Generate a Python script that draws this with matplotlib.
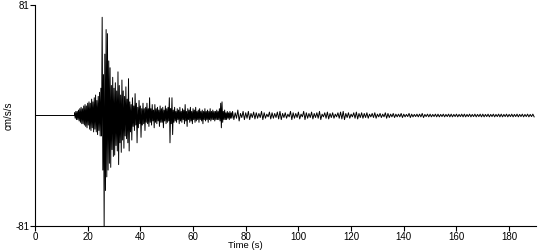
import numpy as np
import matplotlib.pyplot as plt

# flat pre-event part (s)
quiet_start = 0.0
quiet_end = 15.0

# main shaking, 0.5 s steps from 15 s: upper / lower extremes (cm/s/s)
main_t0 = 15.0
main_dt = 0.5
main_hi = [2, 3, 3, 4, 5, 6, 5, 7, 8, 7, 9, 10, 9, 12, 10, 13, 15, 11, 14, 17,
           20, 72, 30, 45, 63, 60, 40, 35, 22, 28, 20, 24, 18, 32, 22, 15, 26, 18, 14, 21,
           12, 27, 10, 8, 13, 7, 16, 9, 6, 11, 7, 5, 9, 5, 6, 9, 5, 13, 5, 8,
           4, 8, 5, 6, 4, 7, 5, 6, 4, 7, 5, 6, 13, 5, 13, 4, 6, 3, 5, 4,
           6, 3, 5, 4, 8, 3, 5, 4, 6, 3, 5, 4, 6, 3, 4, 5, 3, 4, 3, 5,
           3, 4, 3, 5, 3, 4, 3, 3, 4, 3, 5, 9, 10, 3, 4, 2, 3, 2, 3, 2]
main_lo = [-2, -3, -3, -4, -5, -6, -6, -7, -8, -9, -7, -10, -11, -9, -12, -10, -12, -14, -11, -15,
           -15, -40, -81, -55, -45, -40, -35, -38, -25, -30, -29, -22, -26, -36, -20, -27, -18, -24, -15, -17,
           -20, -26, -12, -18, -8, -11, -7, -20, -9, -6, -16, -7, -6, -11, -5, -6, -8, -5, -7, -4,
           -9, -5, -6, -4, -8, -5, -5, -9, -4, -6, -5, -4, -20, -6, -14, -5, -4, -5, -3, -6,
           -4, -5, -3, -6, -4, -8, -3, -5, -4, -6, -3, -5, -4, -3, -5, -3, -4, -6, -3, -4,
           -3, -5, -3, -4, -3, -3, -4, -3, -3, -3, -4, -9, -5, -3, -3, -3, -2, -3, -2, -2]

# coda, 1 s steps from 75 s: peak amplitude (cm/s/s)
coda_t0 = 75.0
coda_dt = 1.0
coda_amp = [3, 2, 4, 1.5, 3, 2, 3, 1.5, 2.5, 2,
            1.5, 3, 2, 1, 2.5, 2, 1.5, 2.5, 3, 1.5,
            2, 1, 3, 2, 1.5, 2.5, 1, 3, 2, 1.5,
            2.5, 1.5, 2, 3, 1, 2, 2.5, 1.5, 2, 1,
            2, 2.5, 3, 1.5, 2, 1, 2, 2.5, 1.5, 2,
            1.5, 2, 1, 1.5, 2, 1, 1.5, 1, 2, 1.5,
            1, 1.5, 1, 1, 1.5, 1, 0.8, 1.5, 1, 0.8,
            1, 1, 1.5, 0.8, 1, 1, 0.8, 1, 1, 0.8,
            1, 0.8, 1, 1, 0.8, 1, 0.8, 1, 1, 0.8,
            1, 0.8, 1, 0.8, 1, 1, 0.8, 1, 0.8, 1,
            0.8, 1, 1, 0.8, 1, 0.8, 1, 0.8, 1, 0.8,
            1, 0.8, 1, 0.8, 1]

y_lim = 81
x_max = 190.2
x_ticks = [0, 20, 40, 60, 80, 100, 120, 140, 160, 180]

# build the zigzag trace
ts = [quiet_start, quiet_end]
ys = [0.0, 0.0]
for i, (h, l) in enumerate(zip(main_hi, main_lo)):
    t = main_t0 + i * main_dt
    ts += [t, t + main_dt / 2]
    ys += [h, l]
for i, a in enumerate(coda_amp):
    t = coda_t0 + i * coda_dt
    ts += [t, t + coda_dt / 2]
    ys += [a, -a]

plt.rcParams['font.family'] = ['Liberation Sans', 'DejaVu Sans']

fig = plt.figure(figsize=(5.5, 2.5), dpi=100)
ax = fig.add_axes([35 / 550, 1 - 226 / 250, 501 / 550, 221 / 250])
ax.plot(ts, ys, color='black', lw=0.7)

ax.set_xlim(0, x_max)
ax.set_ylim(-y_lim, y_lim)
ax.set_xticks(x_ticks)
ax.set_yticks([-y_lim, y_lim])
ax.set_yticklabels([str(-y_lim), str(y_lim)])
ax.tick_params(direction='out', length=3.5, width=0.8, labelsize=7, pad=0.5)

for s in ['top', 'right']:
    ax.spines[s].set_visible(False)
for s in ['left', 'bottom']:
    ax.spines[s].set_linewidth(0.8)

ax.set_ylabel('cm/s/s', fontsize=7)
ax.yaxis.set_label_coords(-0.042, 0.5)

# x label placed by hand, as in the reference it sits off-centre
fig.text(245 / 550, 1 - 241 / 250, 'Time (s)', fontsize=6.8, ha='center', va='top')

fig.savefig('out.png', dpi=100)
